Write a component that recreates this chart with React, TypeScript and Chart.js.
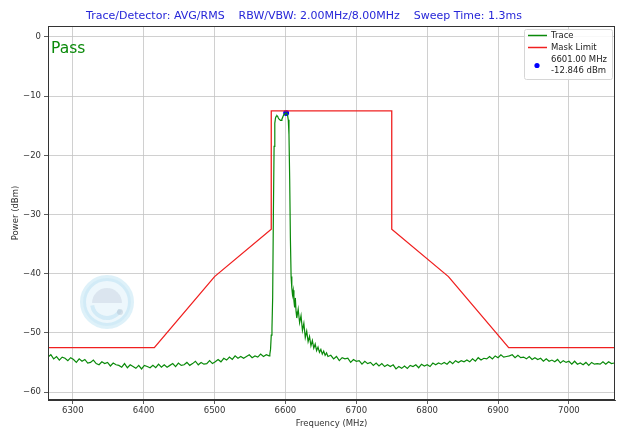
import React, { useEffect, useRef } from "react";
import { Chart, registerables } from "chart.js";

Chart.register(...registerables);

// ---- Data ----
const TITLE_TEXT = "Trace/Detector: AVG/RMS    RBW/VBW: 2.00MHz/8.00MHz    Sweep Time: 1.3ms";
const X_TICKS = [6300, 6400, 6500, 6600, 6700, 6800, 6900, 7000];
const Y_TICKS = [0, -10, -20, -30, -40, -50, -60];
const X_MIN = 6265;
const X_MAX = 7065;
const Y_MIN = -61.35;
const Y_MAX = 1.85;

const MASK_FREQ = [6265, 6415, 6500, 6580, 6580, 6750, 6750, 6830, 6915, 7065];
const MASK_POWER = [-52.5, -52.5, -40.5, -32.5, -12.5, -12.5, -32.5, -40.5, -52.5, -52.5];

const MARKER_FREQ = 6601.0;
const MARKER_POWER = -12.846;

// trace, low side noise floor (6265 .. 6577, 4 MHz steps)
const LOW_START = 6265;
const LOW_STEP = 4;
const traceLow = [
  -54.1, -53.7, -54.4, -54.0, -54.6, -54.1, -54.3, -54.7, -54.2,
  -54.5, -55.0, -54.4, -54.8, -54.5, -55.1, -55.0, -54.6, -55.2,
  -55.4, -54.9, -55.2, -55.0, -55.6, -55.1, -55.4, -55.5, -55.8,
  -55.2, -55.9, -55.4, -55.7, -56.0, -55.5, -56.1, -55.5, -55.7,
  -55.9, -55.5, -55.9, -55.3, -55.8, -55.4, -55.8, -55.5, -55.2,
  -55.7, -55.1, -55.5, -55.4, -55.0, -55.5, -55.2, -54.8, -55.4,
  -55.0, -55.3, -55.2, -54.7, -55.2, -54.9, -54.5, -54.9, -54.3,
  -54.6, -54.1, -54.5, -53.9, -54.3, -54.0, -54.3, -54.0, -53.7,
  -54.2, -53.9, -54.1, -53.6, -54.0, -53.7, -53.9,
];

// trace, signal band (6578 .. 6616, 1 MHz steps)
const SIG_START = 6578;
const SIG_STEP = 1;
const traceSignal = [
  -53.6, -52.8, -50.4, -49.3, -44.0, -30.0, -18.5, -14.6, -13.7, -13.4,
  -13.3, -13.4, -13.7, -13.9, -14.0, -14.1, -14.1, -13.9, -13.6, -13.3,
  -13.1, -13.0, -12.9, -12.846, -12.9, -13.2, -14.0, -16.5, -24.0, -34.0,
  -40.5, -42.4, -43.6, -42.8, -44.6, -45.7, -44.1, -46.4, -47.5,
];

// trace, decay tail (6618 .. 6660, 2 MHz steps)
const TAIL_START = 6618;
const TAIL_STEP = 2;
const traceTail = [
  -46.0, -48.3, -47.1, -49.6, -48.4, -50.8, -49.7, -51.5, -50.6, -52.2, -51.3,
  -52.6, -51.9, -53.0, -52.4, -53.3, -52.8, -53.6, -53.1, -53.8, -53.4, -54.0,
];

// trace, high side noise floor (6664 .. 7064, 4 MHz steps)
const HIGH_START = 6664;
const HIGH_STEP = 4;
const traceHigh = [
  -53.8, -54.4, -54.0, -54.7, -54.2, -54.4, -54.3, -55.0, -54.5, -54.8,
  -54.7, -55.3, -54.8, -55.2, -55.0, -55.5, -55.1, -55.6, -55.2, -55.7,
  -55.4, -55.7, -55.4, -56.1, -55.7, -56.0, -55.6, -56.0, -55.5, -55.7,
  -55.4, -55.9, -55.3, -55.6, -55.4, -55.7, -55.1, -55.4, -55.1, -55.3,
  -55.0, -55.3, -54.8, -55.2, -54.7, -55.0, -54.7, -54.9, -54.6, -54.9,
  -54.4, -54.8, -54.2, -54.6, -54.3, -54.4, -54.0, -54.4, -53.9, -54.2,
  -53.7, -54.1, -54.0, -53.9, -53.7, -54.2, -53.8, -54.2, -54.1, -54.4,
  -54.0, -54.5, -54.2, -54.5, -54.3, -54.8, -54.4, -54.8, -54.6, -54.9,
  -54.5, -55.1, -54.7, -55.0, -54.8, -55.3, -54.8, -55.3, -55.1, -55.4,
  -55.0, -55.5, -55.0, -55.3, -55.2, -55.3, -54.9, -55.3, -54.9, -55.2,
  -55.1,
];

const FONT = "'DejaVu Sans', sans-serif";

function seg(start: number, step: number, vals: number[]) {
  return vals.map((v, i) => ({ x: start + i * step, y: v }));
}

const overlayPlugin = {
  id: "overlay",
  beforeDatasetsDraw(chart: any) {
    const ctx = chart.ctx;
    // faint logo
    ctx.save();
    const cx = 107, cy = 302, r = 24;
    ctx.beginPath();
    ctx.arc(cx, cy, r, 0, Math.PI * 2);
    ctx.fillStyle = "rgba(232,245,251,0.8)";
    ctx.fill();
    ctx.lineWidth = 6;
    ctx.strokeStyle = "rgba(160,214,238,0.35)";
    ctx.stroke();
    ctx.beginPath();
    ctx.arc(cx, cy + 1, 15, Math.PI, 0);
    ctx.closePath();
    ctx.fillStyle = "rgba(185,198,214,0.35)";
    ctx.fill();
    ctx.beginPath();
    ctx.arc(cx, cy + 1, 15, 0.15 * Math.PI, 0.95 * Math.PI);
    ctx.lineWidth = 4;
    ctx.strokeStyle = "rgba(190,225,242,0.55)";
    ctx.stroke();
    ctx.beginPath();
    ctx.arc(cx + 13, cy + 10, 3, 0, Math.PI * 2);
    ctx.fillStyle = "rgba(175,188,202,0.4)";
    ctx.fill();
    ctx.restore();
  },
  afterDraw(chart: any) {
    const ctx = chart.ctx;
    const a = chart.chartArea;
    ctx.save();
    // frame
    ctx.strokeStyle = "#333";
    ctx.lineWidth = 1;
    ctx.strokeRect(a.left + 0.5, a.top + 0.5, a.right - a.left - 1, a.bottom - a.top - 1);

    // title
    ctx.fillStyle = "#2626d8";
    ctx.font = `11px ${FONT}`;
    ctx.textAlign = "center";
    ctx.textBaseline = "alphabetic";
    ctx.fillText(TITLE_TEXT, 304, 19);

    // Pass
    ctx.fillStyle = "#0a8a0a";
    ctx.font = `15.5px ${FONT}`;
    ctx.textAlign = "left";
    ctx.fillText("Pass", 51, 53);

    // legend
    const lx = 524, ly = 29, lw = 88, lh = 50;
    ctx.fillStyle = "rgba(255,255,255,0.85)";
    ctx.strokeStyle = "#d6d6d6";
    ctx.lineWidth = 1;
    ctx.beginPath();
    (ctx as any).roundRect(lx + 0.5, ly + 0.5, lw, lh, 2);
    ctx.fill();
    ctx.stroke();

    ctx.lineWidth = 1.5;
    ctx.strokeStyle = "#0a8a0a";
    ctx.beginPath();
    ctx.moveTo(528, 35.5);
    ctx.lineTo(547, 35.5);
    ctx.stroke();
    ctx.strokeStyle = "#f02020";
    ctx.beginPath();
    ctx.moveTo(528, 47.5);
    ctx.lineTo(547, 47.5);
    ctx.stroke();
    ctx.fillStyle = "#0000ff";
    ctx.beginPath();
    ctx.arc(537, 65.5, 2.6, 0, Math.PI * 2);
    ctx.fill();

    ctx.fillStyle = "#222";
    ctx.font = `8.5px ${FONT}`;
    ctx.textBaseline = "middle";
    ctx.textAlign = "left";
    ctx.fillText("Trace", 551, 35.5);
    ctx.fillText("Mask Limit", 551, 47.5);
    ctx.fillText("6601.00 MHz", 551, 60);
    ctx.fillText("-12.846 dBm", 551, 71);
    ctx.restore();
  },
};

export default function App() {
  const ref = useRef<HTMLCanvasElement | null>(null);

  useEffect(() => {
    if (!ref.current) return;
    const trace = [
      ...seg(LOW_START, LOW_STEP, traceLow),
      ...seg(SIG_START, SIG_STEP, traceSignal),
      ...seg(TAIL_START, TAIL_STEP, traceTail),
      ...seg(HIGH_START, HIGH_STEP, traceHigh),
    ];
    const mask = MASK_FREQ.map((f, i) => ({ x: f, y: MASK_POWER[i] }));

    const tickFont = { family: FONT, size: 8.5 };
    const chart = new Chart(ref.current, {
      type: "scatter",
      data: {
        datasets: [
          {
            label: "Trace",
            data: trace,
            showLine: true,
            borderColor: "#0a8a0a",
            borderWidth: 1.2,
            pointRadius: 0,
            tension: 0,
          },
          {
            label: "Mask Limit",
            data: mask,
            showLine: true,
            borderColor: "#f02020",
            borderWidth: 1.3,
            pointRadius: 0,
            tension: 0,
          },
          {
            label: "Marker",
            data: [{ x: MARKER_FREQ, y: MARKER_POWER }],
            showLine: false,
            pointRadius: 3,
            pointBackgroundColor: "#0000ff",
            pointBorderWidth: 0,
            backgroundColor: "#0000ff",
          },
        ],
      },
      options: {
        animation: false,
        responsive: false,
        devicePixelRatio: 1,
        layout: { padding: { top: 26, right: 8, left: 0, bottom: 0 } },
        plugins: {
          legend: { display: false },
          tooltip: { enabled: false },
          title: { display: false },
        },
        scales: {
          x: {
            type: "linear",
            min: X_MIN,
            max: X_MAX,
            afterBuildTicks: (s: any) => {
              s.ticks = X_TICKS.map((v) => ({ value: v }));
            },
            afterFit: (s: any) => {
              s.height = 29;
            },
            ticks: {
              font: tickFont,
              color: "#333",
              padding: 2,
              maxRotation: 0,
              callback: (v: any) => String(v),
            },
            grid: {
              color: "#c4c4c4",
              lineWidth: 0.8,
              tickLength: 4,
              tickColor: "#333",
            },
            border: { display: true, color: "#333" },
            title: {
              display: true,
              text: "Frequency (MHz)",
              font: { family: FONT, size: 8.5 },
              color: "#333",
              padding: { top: 0, bottom: 0 },
            },
          },
          y: {
            type: "linear",
            min: Y_MIN,
            max: Y_MAX,
            afterBuildTicks: (s: any) => {
              s.ticks = Y_TICKS.map((v) => ({ value: v }));
            },
            afterFit: (s: any) => {
              s.width = 48;
            },
            ticks: {
              font: tickFont,
              color: "#333",
              padding: 3,
              callback: (v: any) => String(v).replace("-", "\u2212"),
            },
            grid: {
              color: "#c4c4c4",
              lineWidth: 0.8,
              tickLength: 4,
              tickColor: "#333",
            },
            border: { display: true, color: "#333" },
            title: {
              display: true,
              text: "Power (dBm)",
              font: { family: FONT, size: 8.5 },
              color: "#333",
              padding: { top: 11, bottom: 0 },
            },
          },
        },
      },
      plugins: [overlayPlugin],
    });
    return () => chart.destroy();
  }, []);

  return (
    <div style={{ position: "absolute", left: 0, top: 0, width: 623, height: 429, background: "#fff" }}>
      <canvas ref={ref} width={623} height={429} />
    </div>
  );
}
